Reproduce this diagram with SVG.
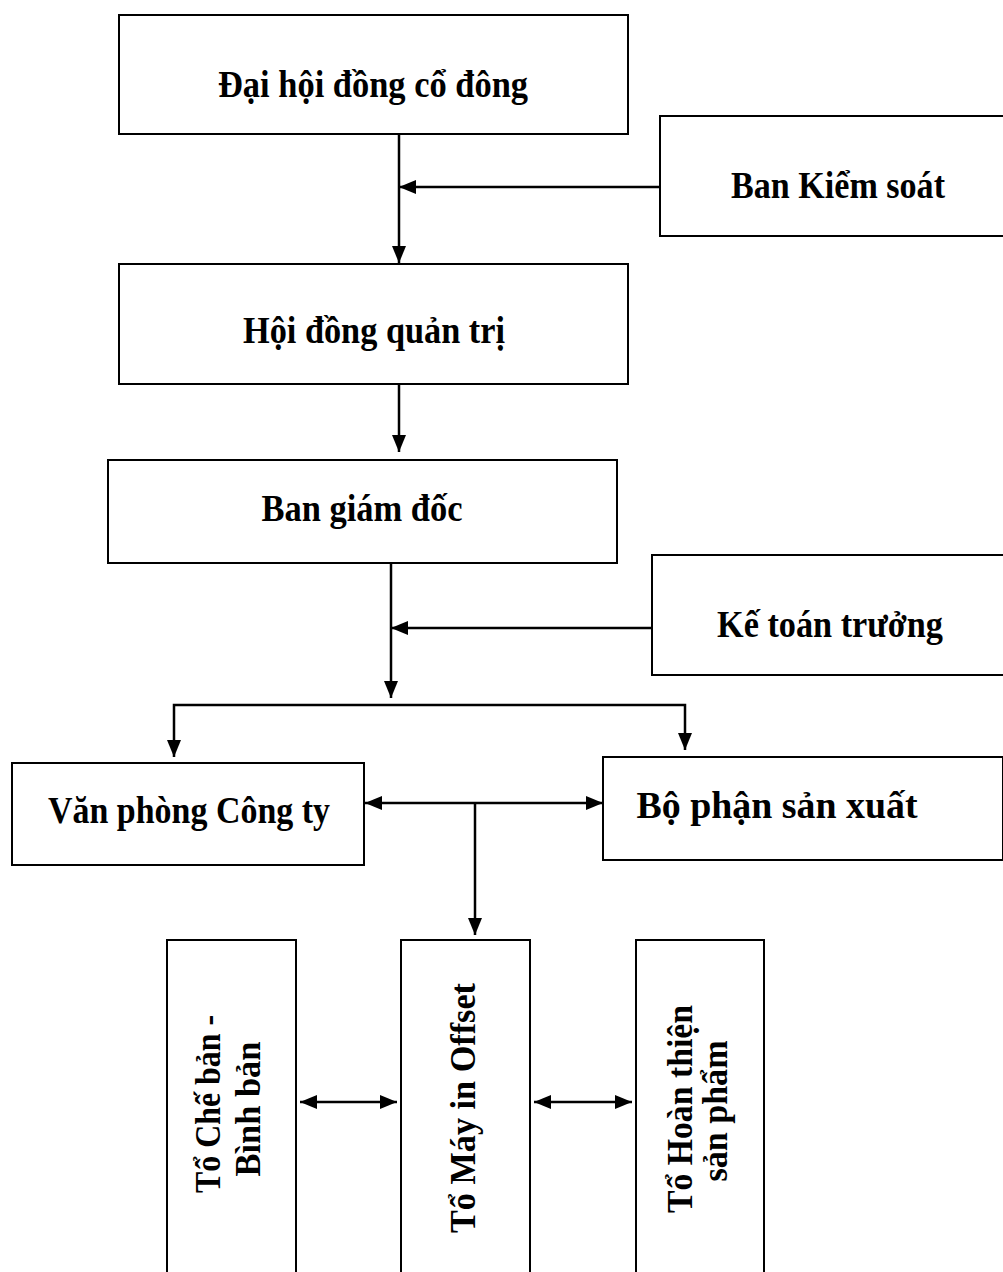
<svg xmlns="http://www.w3.org/2000/svg" width="1003" height="1272" viewBox="0 0 1003 1272">
<style>
.box{fill:#fff;stroke:#000;stroke-width:2}
.t{font-family:"Liberation Serif","Times New Roman",serif;font-weight:bold;font-size:37px;fill:#000;text-anchor:middle}
.v{font-size:35px}
.c{fill:none;stroke:#000;stroke-width:2.5}
</style>
<defs>
<marker id="ah" markerUnits="userSpaceOnUse" markerWidth="17" markerHeight="14" refX="17" refY="7" orient="auto-start-reverse">
<path d="M0,0 L17,7 L0,14 z" fill="#000"/>
</marker>
</defs>
<rect width="1003" height="1272" fill="#fff"/>
<g id="connectors">
<path class="c" d="M399,134 V263" marker-end="url(#ah)"/>
<path class="c" d="M660,187 H399" marker-end="url(#ah)"/>
<path class="c" d="M399,384 V452" marker-end="url(#ah)"/>
<path class="c" d="M391,563 V698" marker-end="url(#ah)"/>
<path class="c" d="M652,628 H391" marker-end="url(#ah)"/>
<path class="c" d="M174,757 V705 H685 V750" marker-start="url(#ah)" marker-end="url(#ah)"/>
<path class="c" d="M365,803 H603" marker-start="url(#ah)" marker-end="url(#ah)"/>
<path class="c" d="M475,803 V935" marker-end="url(#ah)"/>
<path class="c" d="M300,1102 H397" marker-start="url(#ah)" marker-end="url(#ah)"/>
<path class="c" d="M534,1102 H632" marker-start="url(#ah)" marker-end="url(#ah)"/>
</g>
<g id="dai-hoi-dong-co-dong">
<rect class="box" x="119" y="15" width="509" height="119"/>
<text class="t" x="373" y="97" textLength="310" lengthAdjust="spacingAndGlyphs">Đại hội đồng cổ đông</text>
</g>
<g id="ban-kiem-soat">
<rect class="box" x="660" y="116" width="380" height="120"/>
<text class="t" x="838" y="198" textLength="214" lengthAdjust="spacingAndGlyphs">Ban Kiểm soát</text>
</g>
<g id="hoi-dong-quan-tri">
<rect class="box" x="119" y="264" width="509" height="120"/>
<text class="t" x="374" y="343" textLength="262" lengthAdjust="spacingAndGlyphs">Hội đồng quản trị</text>
</g>
<g id="ban-giam-doc">
<rect class="box" x="108" y="460" width="509" height="103"/>
<text class="t" x="362" y="521" textLength="201" lengthAdjust="spacingAndGlyphs">Ban giám đốc</text>
</g>
<g id="ke-toan-truong">
<rect class="box" x="652" y="555" width="390" height="120"/>
<text class="t" x="830" y="637" textLength="226" lengthAdjust="spacingAndGlyphs">Kế toán trưởng</text>
</g>
<g id="van-phong-cong-ty">
<rect class="box" x="12" y="763" width="352" height="102"/>
<text class="t" x="189" y="823" textLength="282" lengthAdjust="spacingAndGlyphs">Văn phòng Công ty</text>
</g>
<g id="bo-phan-san-xuat">
<rect class="box" x="603" y="757" width="400" height="103"/>
<text class="t" x="777" y="818" textLength="281" lengthAdjust="spacingAndGlyphs">Bộ phận sản xuất</text>
</g>
<g id="to-che-ban">
<rect class="box" x="167" y="940" width="129" height="350"/>
<text class="t v" transform="translate(220,1104) rotate(-90)" textLength="178" lengthAdjust="spacingAndGlyphs">Tổ Chế bản -</text>
<text class="t v" transform="translate(260,1109) rotate(-90)" textLength="135" lengthAdjust="spacingAndGlyphs">Bình bản</text>
</g>
<g id="to-may-in-offset">
<rect class="box" x="401" y="940" width="129" height="350"/>
<text class="t v" transform="translate(475,1108) rotate(-90)" textLength="250" lengthAdjust="spacingAndGlyphs">Tổ Máy in Offset</text>
</g>
<g id="to-hoan-thien">
<rect class="box" x="636" y="940" width="128" height="350"/>
<text class="t v" transform="translate(692,1109) rotate(-90)" textLength="208" lengthAdjust="spacingAndGlyphs">Tổ Hoàn thiện</text>
<text class="t v" transform="translate(727,1111) rotate(-90)" textLength="141" lengthAdjust="spacingAndGlyphs">sản phẩm</text>
</g>
</svg>
